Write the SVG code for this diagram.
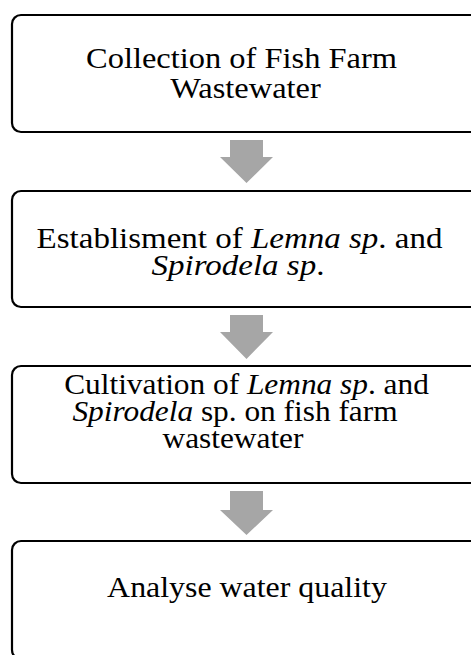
<svg xmlns="http://www.w3.org/2000/svg" width="471" height="655" viewBox="0 0 471 655">
<style>
.box{fill:#fff;stroke:#000;stroke-width:2.2}
.t{font-family:"Liberation Serif","Times New Roman",serif;font-size:29.5px;fill:#000;text-anchor:middle}
.b2{font-size:30px}
.b3{font-size:28.5px}
.b4{font-size:29px}
.i{font-style:italic}
.arr{fill:#a6a6a6}
</style>
<rect width="471" height="655" fill="#fff"/>
<g id="connectors">
<polygon class="arr" points="230,140 263,140 263,157 273,157 246.5,183 220,157 230,157"/>
<polygon class="arr" points="230,315 263,315 263,332 273,332 246.5,359 220,332 230,332"/>
<polygon class="arr" points="230,491 263,491 263,510 273,510 246.5,535 220,510 230,510"/>
</g>
<g id="n1">
<rect class="box" x="12" y="15" width="480" height="117" rx="9"/>
<text class="t" transform="translate(241.5,68) scale(1.1,1)">Collection of Fish Farm</text>
<text class="t" transform="translate(245.5,98) scale(1.1,1)">Wastewater</text>
</g>
<g id="n2">
<rect class="box" x="12" y="191" width="480" height="116" rx="9"/>
<text class="t b2" transform="translate(239.5,248) scale(1.1,1)">Establisment of <tspan class="i">Lemna sp</tspan>. and</text>
<text class="t b2" transform="translate(238,275) scale(1.1,1)"><tspan class="i">Spirodela sp</tspan>.</text>
</g>
<g id="n3">
<rect class="box" x="12" y="366" width="480" height="117" rx="9"/>
<text class="t b3" transform="translate(246.5,394) scale(1.1,1)">Cultivation of <tspan class="i">Lemna sp</tspan>. and</text>
<text class="t b3" transform="translate(235,421) scale(1.1,1)"><tspan class="i">Spirodela</tspan> sp. on fish farm</text>
<text class="t b3" transform="translate(233,448) scale(1.1,1)">wastewater</text>
</g>
<g id="n4">
<rect class="box" x="12" y="541" width="480" height="118" rx="9"/>
<text class="t b4" transform="translate(247,597) scale(1.1,1)">Analyse water quality</text>
</g>
</svg>
